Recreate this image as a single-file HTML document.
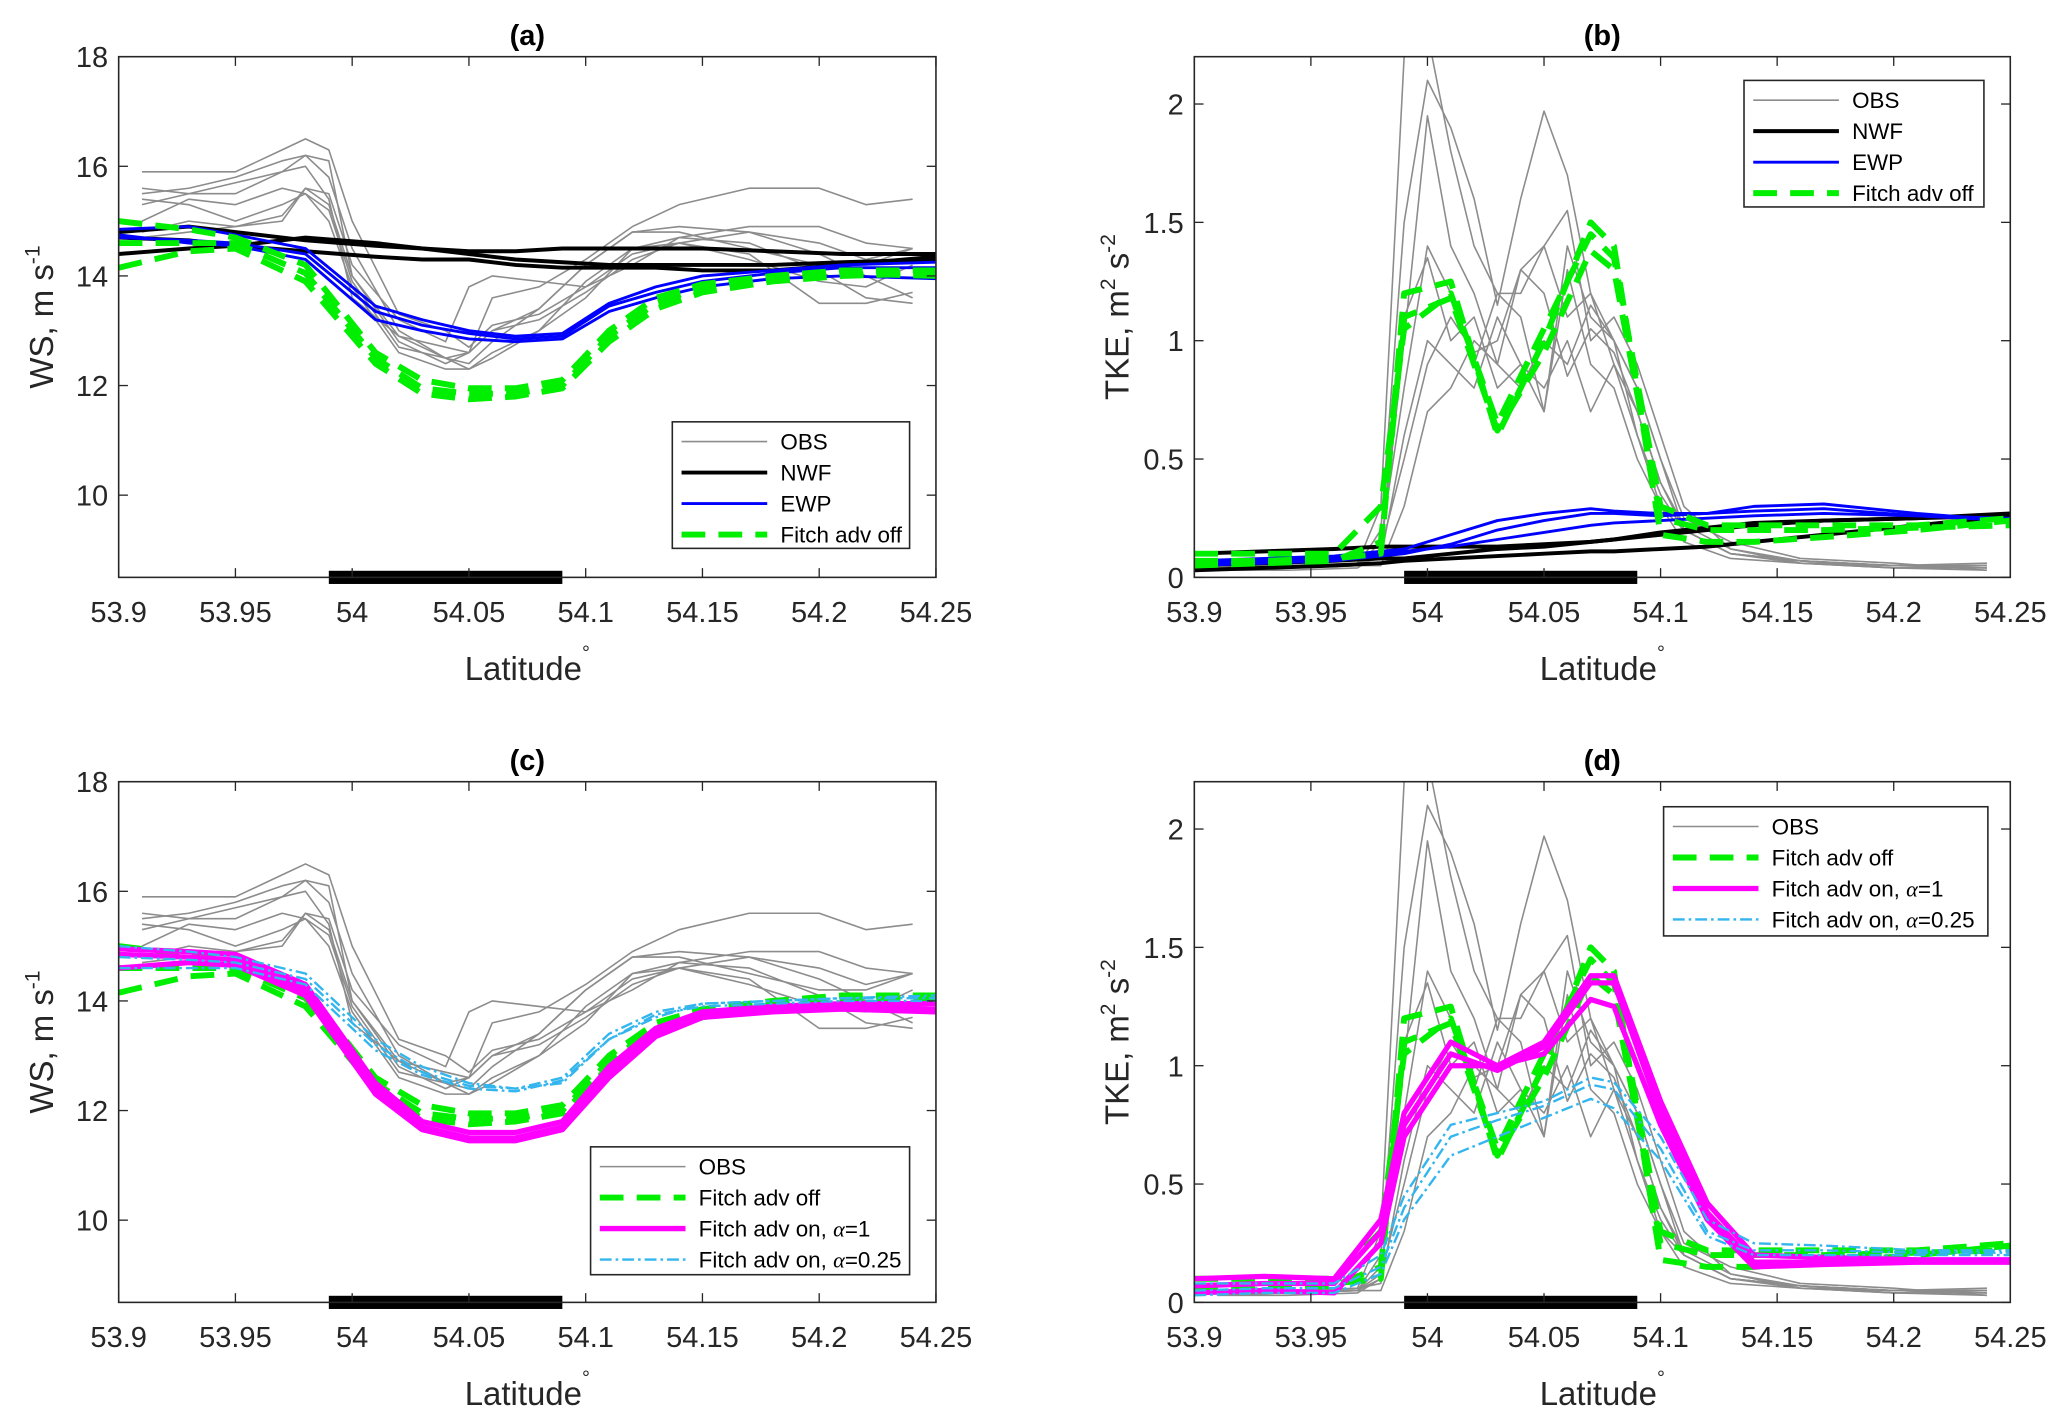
<!DOCTYPE html>
<html><head><meta charset="utf-8"><style>
html,body{margin:0;padding:0;background:#fff;width:2067px;height:1423px;overflow:hidden}
svg{display:block;font-family:"Liberation Sans",sans-serif}
</style></head><body>
<svg id="fig" width="2067" height="1423" viewBox="0 0 1568 1079.5" xmlns="http://www.w3.org/2000/svg"></svg>
<script>
// ---- data ----
const xTicks=[53.9,53.95,54,54.05,54.1,54.15,54.2,54.25];
const xTickLabels=["53.9","53.95","54","54.05","54.1","54.15","54.2","54.25"];
const wsTicks=[10,12,14,16,18];
const tkeTicks=[0,0.5,1,1.5,2];
const tkeTickLabels=["0","0.5","1","1.5","2"];
const gridWS=[53.90,53.93,53.95,53.98,54.01,54.03,54.05,54.07,54.09,54.11,54.13,54.15,54.18,54.21,54.25];
const gridObsWS=[53.91,53.93,53.95,53.97,53.98,53.99,54.0,54.02,54.04,54.05,54.06,54.08,54.10,54.12,54.14,54.17,54.20,54.22,54.24];
const gridTKE=[53.90,53.93,53.96,53.98,53.99,54.01,54.03,54.05,54.07,54.08,54.10,54.12,54.14,54.17,54.21,54.25];
const gridObsTKE=[53.91,53.94,53.97,53.98,53.99,54.0,54.01,54.02,54.03,54.04,54.05,54.06,54.07,54.08,54.09,54.10,54.11,54.13,54.16,54.20,54.24];
const obsWS=[
[15.9,15.9,15.9,16.3,16.5,16.3,15.0,13.3,13.0,12.7,13.1,13.3,13.8,14.2,14.7,14.9,14.9,14.6,14.5],
[15.5,15.6,15.8,16.1,16.2,15.8,14.5,13.0,12.5,12.4,12.8,13.4,14.2,14.8,14.9,14.8,14.6,14.3,14.5],
[15.3,15.5,15.5,15.9,16.2,16.1,14.0,12.8,12.4,12.6,13.6,13.8,14.3,14.9,15.3,15.6,15.6,15.3,15.4],
[15.0,15.4,15.3,15.6,15.5,15.0,13.8,12.6,12.3,12.3,12.6,13.0,13.6,14.5,14.7,14.6,14.1,13.6,13.5],
[14.8,15.0,14.9,15.1,15.6,15.5,14.2,13.2,12.8,13.8,14.0,13.9,13.8,14.4,14.6,14.4,13.5,13.5,13.7],
[14.7,14.8,14.9,15.0,15.6,15.3,14.0,12.9,12.5,12.6,13.0,13.4,14.2,14.8,14.8,14.5,14.2,14.2,14.5],
[15.4,15.3,15.0,15.3,15.5,15.2,13.9,12.7,12.5,12.3,12.5,13.0,13.9,14.5,14.6,14.3,13.9,13.8,14.2],
[15.6,15.5,15.7,15.9,16.0,15.4,13.6,12.9,12.7,12.6,13.0,13.2,13.7,14.3,14.6,14.8,14.4,14.0,13.6]];
const nwfWS=[
[14.8,14.9,14.8,14.65,14.55,14.5,14.45,14.45,14.5,14.5,14.5,14.5,14.45,14.4,14.4],
[14.7,14.65,14.55,14.7,14.6,14.5,14.4,14.3,14.25,14.2,14.2,14.2,14.2,14.25,14.3],
[14.4,14.5,14.55,14.45,14.35,14.3,14.3,14.2,14.15,14.15,14.15,14.1,14.1,14.2,14.35]];
const ewpWS=[
[14.85,14.9,14.75,14.5,13.45,13.2,13.0,12.9,12.95,13.5,13.8,14.0,14.1,14.2,14.25],
[14.7,14.65,14.6,14.4,13.35,13.1,12.95,12.85,12.9,13.45,13.7,13.9,14.05,14.15,14.15],
[14.75,14.6,14.55,14.3,13.2,13.0,12.85,12.8,12.85,13.35,13.6,13.8,13.95,14.0,13.95]];
const offWS=[
[15.0,14.85,14.7,14.2,12.6,12.1,11.95,11.95,12.1,13.0,13.6,13.85,14.0,14.1,14.1],
[14.6,14.6,14.6,14.05,12.5,11.95,11.85,11.85,12.0,12.9,13.5,13.8,13.95,14.05,14.0],
[14.15,14.45,14.5,13.9,12.4,11.85,11.75,11.8,11.95,12.8,13.4,13.7,13.9,14.0,14.05]];
const onWS=[
[14.95,14.9,14.85,14.3,12.5,11.8,11.6,11.6,11.8,12.8,13.5,13.8,13.9,13.95,13.95],
[14.85,14.8,14.75,14.2,12.4,11.7,11.5,11.5,11.7,12.7,13.4,13.75,13.85,13.9,13.85],
[14.6,14.7,14.65,14.1,12.3,11.65,11.45,11.45,11.65,12.6,13.35,13.7,13.8,13.85,13.8]];
const on25WS=[
[15.0,14.9,14.8,14.5,13.3,12.8,12.5,12.4,12.5,13.3,13.7,13.95,14.0,14.05,14.05],
[14.8,14.75,14.7,14.4,13.2,12.7,12.45,12.4,12.6,13.4,13.8,13.95,14.0,14.05,14.1],
[14.6,14.6,14.6,14.3,13.1,12.65,12.4,12.35,12.55,13.3,13.75,13.9,13.95,14.0,14.0]];
const obsTKE=[
[.05,.05,.06,.3,2.2,2.3,1.8,1.4,1.2,1.2,1.4,1.1,1.2,.9,.7,.4,.2,.1,.07,.05,.05],
[.04,.04,.05,.2,1.5,2.1,1.9,1.6,1.15,1.6,1.97,1.7,1.2,1.0,.8,.5,.25,.15,.08,.06,.03],
[.03,.03,.04,.1,1.0,1.95,1.4,1.2,.9,1.3,1.4,1.55,1.0,1.1,.9,.6,.3,.12,.06,.04,.04],
[.04,.05,.05,.15,.8,1.4,1.2,.9,1.2,1.1,.7,1.4,1.1,1.0,.8,.5,.2,.1,.07,.05,.06],
[.05,.04,.06,.08,.6,1.0,.9,.8,1.1,.9,.8,1.0,.7,.9,.6,.3,.15,.08,.06,.04,.03],
[.03,.04,.05,.1,1.1,1.35,1.0,1.1,.8,.9,.7,1.3,.9,.8,.5,.3,.2,.1,.06,.05,.04],
[.04,.04,.05,.05,.3,.7,.8,1.0,.9,.8,1.0,.9,1.15,1.0,.6,.35,.2,.1,.07,.04,.05],
[.05,.05,.05,.12,.5,.9,1.1,.95,1.0,1.3,1.2,.85,1.05,.95,.7,.4,.22,.12,.07,.05,.05]];
const offTKE=[
[.07,.07,.08,.1,1.2,1.25,.6,1.0,1.5,1.4,.18,.15,.15,.17,.2,.24],
[.1,.1,.1,.3,1.05,1.2,.65,1.05,1.45,1.35,.3,.22,.22,.22,.22,.25],
[.05,.06,.07,.15,1.1,1.18,.62,.95,1.38,1.3,.25,.2,.2,.2,.21,.22]];
const nwfTKE=[
[.1,.11,.12,.13,.13,.13,.13,.14,.15,.16,.18,.2,.22,.24,.25,.27],
[.05,.06,.07,.08,.08,.1,.12,.13,.15,.16,.19,.21,.23,.24,.25,.26],
[.03,.04,.05,.06,.07,.08,.09,.1,.11,.11,.12,.13,.15,.18,.22,.26]];
const ewpTKE=[
[.07,.08,.09,.11,.12,.18,.24,.27,.29,.28,.27,.27,.28,.29,.26,.25],
[.05,.06,.07,.09,.1,.14,.2,.24,.27,.27,.26,.27,.3,.31,.27,.24],
[.06,.07,.08,.1,.11,.13,.16,.19,.22,.23,.24,.25,.26,.27,.26,.24]];
const onTKE=[
[.1,.11,.1,.35,.8,1.1,1.0,1.1,1.38,1.38,.85,.42,.2,.19,.18,.18],
[.07,.08,.08,.3,.75,1.05,.98,1.08,1.35,1.35,.8,.38,.17,.17,.17,.17],
[.04,.05,.04,.25,.7,1.0,1.0,1.05,1.28,1.25,.75,.35,.15,.16,.17,.17]];
const on25TKE=[
[.08,.08,.08,.2,.45,.75,.8,.85,.95,.93,.7,.35,.25,.24,.22,.22],
[.05,.06,.06,.15,.4,.7,.77,.83,.92,.9,.65,.3,.22,.22,.21,.21],
[.03,.04,.04,.12,.35,.62,.7,.78,.86,.82,.6,.28,.2,.2,.2,.2]];
const farmRange=[53.99,54.09];

// ---- drawing ----
const NS="http://www.w3.org/2000/svg";
const svg=document.getElementById('fig');
function mk(tag,attrs,parent){const e=document.createElementNS(NS,tag);for(const k in attrs)e.setAttribute(k,attrs[k]);(parent||svg).appendChild(e);return e;}
const STY={
 obs:{stroke:'#8c8c8c','stroke-width':1.2},
 nwf:{stroke:'#000','stroke-width':3},
 ewp:{stroke:'#0000ff','stroke-width':2.2},
 off:{stroke:'#00ee00','stroke-width':4.5,'stroke-dasharray':'18 10'},
 on:{stroke:'#ff00ff','stroke-width':4},
 on25:{stroke:'#33b5ee','stroke-width':1.8,'stroke-dasharray':'9 3 2 3'}
};
function panel(id,L,R,T,B,ymin,ymax,yt,ytl,title,ylab,super_,series,legend,lbox){
  const g=mk('g',{});
  
  
  const sx=v=>L+(v-53.9)/(0.35)*(R-L);
  const sy=v=>B-(v-ymin)/(ymax-ymin)*(B-T);
  const cp=mk('clipPath',{id:'clip'+id},g);mk('rect',{x:L,y:T,width:R-L,height:B-T},cp);
  const plot=mk('g',{'clip-path':'url(#clip'+id+')'},g);
  
  
  series.forEach(s=>{
    s.data.forEach((arr,i)=>{
      const d=arr.map((v,j)=>(j?'L':'M')+sx(s.x[j]).toFixed(2)+' '+sy(v).toFixed(2)).join(' ');
      const p=mk('path',Object.assign({d:d,fill:'none','stroke-linejoin':'round'},STY[s.k]),plot);
      
      
    });
  });
  const bar=mk('rect',{x:sx(farmRange[0]),y:B-5,width:sx(farmRange[1])-sx(farmRange[0]),height:10,fill:'#000'},g);
  
  
  const box=mk('rect',{x:L,y:T,width:R-L,height:B-T,fill:'none',stroke:'#262626','stroke-width':1.2},g);
  
  
  xTicks.forEach((v,i)=>{
    const x=sx(v);
    mk('line',{x1:x,x2:x,y1:B,y2:B-7,stroke:'#262626','stroke-width':1},g);
    mk('line',{x1:x,x2:x,y1:T,y2:T+7,stroke:'#262626','stroke-width':1},g);
    const t=mk('text',{x:x,y:B+34,'text-anchor':'middle','font-size':22,fill:'#262626'},g);
    t.textContent=xTickLabels[i];
    
    
  });
  yt.forEach((v,i)=>{
    const y=sy(v);
    mk('line',{x1:L,x2:L+7,y1:y,y2:y,stroke:'#262626','stroke-width':1},g);
    mk('line',{x1:R,x2:R-7,y1:y,y2:y,stroke:'#262626','stroke-width':1},g);
    const t=mk('text',{x:L-8,y:y+8,'text-anchor':'end','font-size':22,fill:'#262626'},g);
    t.textContent=ytl[i];
    
    
  });
  const tt=mk('text',{x:(L+R)/2,y:T-9,'text-anchor':'middle','font-size':22,'font-weight':'bold',fill:'#000'},g);
  tt.textContent=title;
  
  
  const xl=mk('text',{x:(L+R)/2,y:B+78,'text-anchor':'middle','font-size':25,fill:'#262626'},g);
  xl.innerHTML='Latitude<tspan dy="-16" font-size="15">°</tspan>';
  
  
  const yl=mk('text',{x:0,y:0,'text-anchor':'middle','font-size':25,fill:'#262626',transform:'translate('+(L-50)+','+((T+B)/2)+') rotate(-90)'},g);
  yl.innerHTML=ylab+super_;
  
  
  const lg=mk('g',{},g);
  
  
  mk('rect',{x:lbox[0],y:lbox[1],width:lbox[2],height:lbox[3],fill:'#fff',stroke:'#262626','stroke-width':1.2},lg);
  legend.forEach((e,i)=>{
    const y=lbox[1]+15+i*23.5;
    mk('line',Object.assign({x1:lbox[0]+7,x2:lbox[0]+72,y1:y,y2:y},STY[e.k]),lg);
    const t=mk('text',{x:lbox[0]+82,y:y+6,'font-size':17,fill:'#000'},lg);
    t.innerHTML=e.t;
    
    
  });
}
const wsLab='WS, m s<tspan dy="-10" font-size="16">-1</tspan>';
const tkeLab='TKE, m<tspan dy="-10" font-size="16">2</tspan><tspan dy="10"> s</tspan><tspan dy="-10" font-size="16">-2</tspan>';
const wsTL=wsTicks.map(String);
const al='<tspan font-family="Liberation Serif" font-style="italic">α</tspan>';
panel('a',90,710,43,438,8.5,18,wsTicks,wsTL,'(a)',wsLab,'',[
 {k:'obs',x:gridObsWS,data:obsWS},{k:'nwf',x:gridWS,data:nwfWS},{k:'ewp',x:gridWS,data:ewpWS},{k:'off',x:gridWS,data:offWS}],
 [{k:'obs',t:'OBS'},{k:'nwf',t:'NWF'},{k:'ewp',t:'EWP'},{k:'off',t:'Fitch adv off'}],[510,320,180,96]);
panel('b',906,1525,43,438,0,2.2,tkeTicks,tkeTickLabels,'(b)',tkeLab,'',[
 {k:'obs',x:gridObsTKE,data:obsTKE},{k:'nwf',x:gridTKE,data:nwfTKE},{k:'ewp',x:gridTKE,data:ewpTKE},{k:'off',x:gridTKE,data:offTKE}],
 [{k:'obs',t:'OBS'},{k:'nwf',t:'NWF'},{k:'ewp',t:'EWP'},{k:'off',t:'Fitch adv off'}],[1323,61,182,96]);
panel('c',90,710,593,988,8.5,18,wsTicks,wsTL,'(c)',wsLab,'',[
 {k:'obs',x:gridObsWS,data:obsWS},{k:'off',x:gridWS,data:offWS},{k:'on',x:gridWS,data:onWS},{k:'on25',x:gridWS,data:on25WS}],
 [{k:'obs',t:'OBS'},{k:'off',t:'Fitch adv off'},{k:'on',t:'Fitch adv on, '+al+'=1'},{k:'on25',t:'Fitch adv on, '+al+'=0.25'}],[448,870,242,97]);
panel('d',906,1525,593,988,0,2.2,tkeTicks,tkeTickLabels,'(d)',tkeLab,'',[
 {k:'obs',x:gridObsTKE,data:obsTKE},{k:'off',x:gridTKE,data:offTKE},{k:'on',x:gridTKE,data:onTKE},{k:'on25',x:gridTKE,data:on25TKE}],
 [{k:'obs',t:'OBS'},{k:'off',t:'Fitch adv off'},{k:'on',t:'Fitch adv on, '+al+'=1'},{k:'on25',t:'Fitch adv on, '+al+'=0.25'}],[1262,612,246,98]);
</script>
</body></html>
